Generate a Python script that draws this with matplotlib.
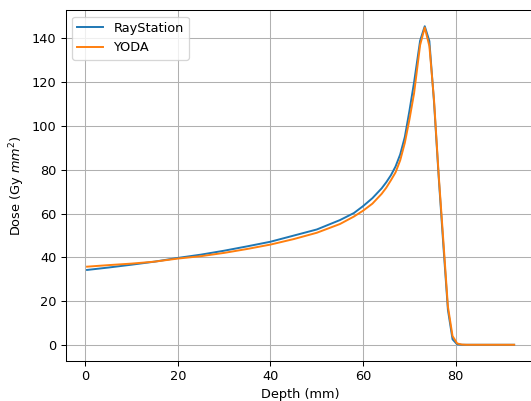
import matplotlib
matplotlib.use("Agg")
import matplotlib.pyplot as plt

depth = [0.4, 5, 10, 15, 20, 25, 30, 35, 40, 45, 50, 55, 58, 60, 62, 64, 65, 66, 67, 68,
         69, 70, 71, 72.3, 73.3, 74.3, 75.3, 76.3, 77.3, 78.3, 79.3, 80.3, 81.3, 82.3, 92.6]

raystation = [34.2, 35.3, 36.6, 38.0, 39.7, 41.2, 43.0, 45.0, 47.1, 49.9, 52.7, 57.0, 60.2, 63.4,
              67.0, 71.5, 74.3, 77.5, 81.5, 87.0, 95.0, 107.0, 120.0, 139.0, 145.6, 138.8,
              111.0, 77.0, 46.0, 16.0, 2.5, 0.2, 0.0, 0.0, 0.0]

yoda = [35.7, 36.4, 37.1, 38.0, 39.4, 40.5, 42.0, 43.8, 45.8, 48.3, 51.2, 55.2, 58.6, 61.3,
        64.5, 69.0, 71.8, 75.2, 78.8, 84.3, 92.3, 103.0, 115.0, 137.0, 145.0, 136.5,
        112.0, 78.0, 48.0, 17.5, 4.0, 0.6, 0.1, 0.0, 0.0]

DPI = 93
W, H = 531, 401
fig = plt.figure(figsize=(W / DPI, H / DPI), dpi=DPI)
ax = fig.add_axes([65.7 / W, 40.3 / H, 469.8 / W, 350.4 / H])
ax.plot(depth, raystation, label="RayStation")
ax.plot(depth, yoda, label="YODA")
ax.set_xlabel("Depth (mm)")
ax.set_ylabel("Dose (Gy $mm^2$)")
ax.grid(True)
ax.legend(loc="upper left")
fig.savefig("out.png", dpi=DPI)
